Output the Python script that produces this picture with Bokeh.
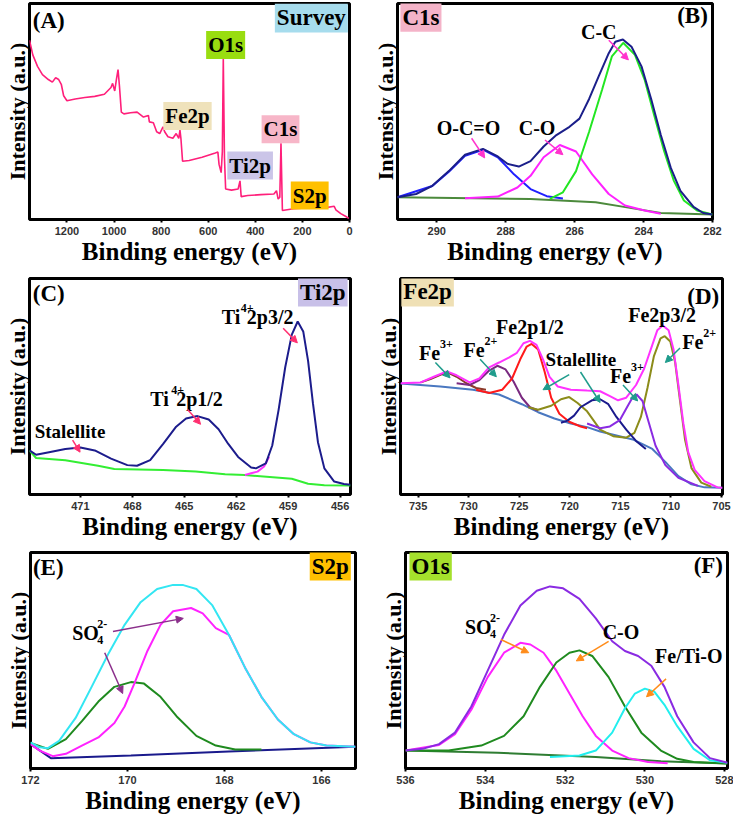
from bokeh.plotting import figure
from bokeh.models import Range1d, FixedTicker, Label, Arrow, NormalHead
from bokeh.layouts import column, row
from bokeh.embed import file_html
from bokeh.resources import INLINE

SERIF = "Liberation Serif"
SANS = "Liberation Sans"

# ---------------- data ----------------
# (A) survey
survey_be = [1359, 1345, 1325, 1304, 1279, 1262, 1248, 1235, 1224, 1214, 1200, 1165, 1124, 1082, 1041,
             1013, 1006, 997, 990, 983, 977, 969, 958, 930, 902, 875, 854, 850, 833, 819,
             806, 792, 785, 771, 750, 736, 725, 720, 716, 709, 681, 626, 570, 559, 554,
             545, 540, 536, 531, 526, 501, 473, 465, 460, 432, 376, 321, 310, 303, 296,
             291, 285, 238, 169, 100, 65, 58, 37, 17, 3]
survey_int = [83.0, 76.2, 70.9, 67.1, 64.8, 63.6, 65.6, 64.8, 62.6, 57.3, 55.0, 55.8, 56.5, 57.0, 58.0,
              61.1, 63.0, 59.5, 64.8, 69.4, 61.8, 49.7, 48.9, 49.4, 49.7, 47.4, 48.2, 45.2, 44.8, 40.6,
              39.8, 42.9, 40.6, 38.3, 37.6, 39.8, 37.6, 41.4, 37.6, 27.0, 27.3, 28.8, 30.8, 31.2, 25.5,
              21.7, 31.5, 74.7, 28.5, 14.1, 13.6, 14.1, 17.9, 10.6, 11.1, 11.5, 11.8, 13.3, 9.5, 10.3,
              35.3, 4.2, 5.0, 5.5, 5.5, 6.1, 4.5, 2.7, 1.5, 0.5]
survey_ticks = [1200, 1000, 800, 600, 400, 200, 0]

# (B) C1s
c1s_ticks = [290, 288, 286, 284, 282]
c1s_env_be = [291.14, 290.6, 290.13, 289.65, 289.18, 288.66, 288.23, 287.95, 287.62, 287.28, 286.9, 286.53,
              286.15, 285.86, 285.58, 285.3, 285.01, 284.82, 284.6, 284.35, 284.06, 283.78, 283.5, 283.21,
              282.93, 282.55, 282.27, 282.0]
c1s_env_int = [10.3, 11.8, 15.6, 22.4, 30.0, 32.7, 29.2, 25.8, 24.5, 27.0, 33.8, 39.1, 42.9, 46.7, 55.8,
               66.4, 77.0, 82.3, 83.3, 80.0, 70.9, 55.8, 39.1, 23.9, 13.3, 5.8, 3.0, 2.3]
c1s_bg_be = [291.14, 287.28, 285.39, 284.44, 283.5, 282.0]
c1s_bg_int = [10.3, 9.5, 8.0, 5.5, 3.0, 2.3]
c1s_oco_be = [291.14, 290.13, 289.65, 289.18, 288.66, 288.23, 287.76, 287.28, 286.81, 286.34]
c1s_oco_int = [10.3, 15.5, 22.1, 29.5, 32.3, 28.8, 20.9, 14.1, 10.8, 9.7]
c1s_co_be = [289.18, 288.23, 287.66, 287.28, 286.9, 286.43, 285.96, 285.49, 285.01, 284.54, 283.97, 283.5]
c1s_co_int = [9.8, 10.6, 14.8, 20.2, 28.8, 34.5, 31.5, 20.9, 11.8, 6.5, 4.2, 2.7]
c1s_cc_be = [286.72, 286.34, 285.96, 285.58, 285.2, 284.92, 284.59, 284.25, 283.97, 283.69, 283.4, 283.12,
             282.83, 282.45, 282.0]
c1s_cc_int = [9.5, 12.6, 22.4, 40.6, 60.3, 75.5, 81.8, 76.2, 64.8, 48.2, 31.5, 17.9, 8.8, 4.2, 2.3]

# (C) Ti2p
ti_ticks = [471, 468, 465, 462, 459, 456]
ti_env_be = [473.94, 473.56, 472.81, 471.87, 471.0, 470.17, 469.23, 468.29, 467.73, 466.97, 466.22, 465.47,
             464.9, 464.24, 463.59, 463.02, 462.46, 461.89, 461.14, 460.86, 460.29, 459.92, 459.55, 459.17,
             458.79, 458.45, 458.13, 457.85, 457.57, 457.28, 456.91, 456.34, 455.78, 455.4]
ti_env_int = [20.4, 18.4, 19.6, 21.1, 21.8, 20.4, 16.6, 13.6, 13.3, 15.9, 23.4, 31.4,
              35.2, 36.3, 34.7, 30.2, 23.4, 17.4, 12.5, 12.1, 14.4, 22.7, 39.3, 58.9,
              74.0, 80.1, 75.5, 61.9, 42.3, 24.2, 12.1, 6.0, 4.9, 4.5]
ti_p32_be = [461.5, 461.14, 460.77, 460.39, 460.1]
ti_p32_int = [9.0, 9.8, 10.6, 13.0, 17.5]
ti_bg_be = [473.94, 473.56, 471.87, 469.98, 469.04, 466.22, 464.34, 462.64, 461.51, 458.79, 457.85,
            456.91, 455.4]
ti_bg_int = [20.4, 16.9, 15.9, 13.3, 11.8, 11.3, 10.6, 9.4, 9.0, 7.3, 5.0, 4.3, 4.2]

# (D) Fe2p
fe_ticks = [735, 730, 725, 720, 715, 710, 705]
fe_bg_be = [736.74, 732.81, 729.58, 727.0, 724.74, 723.13, 721.52, 719.9, 718.29, 717.0, 713.77, 711.84,
            710.55, 709.26, 707.97, 706.68, 704.9]
fe_bg_int = [51.4, 50.0, 48.5, 46.3, 41.8, 38.1, 35.2, 32.9, 31.2, 29.2, 25.5, 21.1, 15.1, 8.5, 4.7, 3.3, 3.1]
fe_env_be = [736.74, 734.74, 733.45, 732.16, 731.19, 729.9, 728.94, 727.97, 727.0, 726.03, 725.23, 724.58,
             723.94, 723.29, 722.65, 722.0, 721.19, 719.9, 718.29, 717.0, 716.03, 715.23, 714.42, 713.45,
             712.65, 712.0, 711.35, 710.81, 710.23, 709.74, 709.26, 708.77, 708.29, 707.65, 706.68, 705.39,
             704.9]
fe_env_int = [51.5, 51.9, 54.5, 57.0, 55.2, 51.9, 53.7, 58.9, 61.1, 63.4, 65.6, 70.0,
              71.1, 69.3, 62.6, 54.5, 50.0, 48.5, 48.1, 47.8, 45.5, 43.6, 44.8, 50.7,
              58.2, 67.1, 76.0, 78.2, 76.0, 67.1, 50.7, 32.9, 19.6, 11.4, 6.2, 3.3, 3.1]
fe_sat3_be = [734.74, 733.77, 732.16, 731.19, 730.23, 729.26, 728.29]
fe_sat3_int = [51.9, 53.4, 56.7, 54.5, 51.5, 49.3, 48.5]
fe_p12_2_be = [731.19, 729.9, 728.94, 727.97, 727.16, 726.35, 725.55, 724.74, 723.94, 723.13]
fe_p12_2_int = [51.5, 50.7, 53.0, 57.4, 59.6, 57.9, 52.2, 44.8, 40.4, 38.9]
fe_p12_3_be = [729.26, 727.97, 726.68, 725.71, 724.9, 724.26, 723.77, 723.13, 722.48, 721.84, 721.03,
               720.06, 718.94, 718.29]
fe_p12_3_int = [48.5, 47.0, 48.5, 53.7, 62.6, 68.5, 69.7, 67.1, 56.7, 44.8, 37.4, 33.7, 31.5, 30.7]
fe_p32_2_be = [724.1, 723.13, 721.84, 720.87, 720.06, 719.26, 718.29, 717.0, 715.71, 714.42, 713.61, 712.97,
               712.32, 711.68, 711.03, 710.61, 710.06, 709.58, 709.1, 708.61, 707.97, 707.0, 706.0]
fe_p32_2_int = [40.4, 39.2, 41.1, 44.1, 45.1, 42.5, 38.5, 30.0, 27.0, 26.3, 28.5, 35.9,
                49.3, 64.1, 72.3, 73.3, 70.8, 61.1, 43.3, 25.5, 12.2, 5.5, 3.6]
fe_sat_be = [720.87, 720.23, 719.58, 718.94, 717.81, 717.0, 716.19, 715.39, 714.42, 713.45, 712.48]
fe_sat_int = [33.2, 34.2, 36.5, 40.4, 43.6, 44.1, 41.8, 35.9, 30.0, 24.8, 21.1]
fe_p32_3_be = [718.29, 717.0, 716.03, 715.06, 714.26, 713.77, 713.39, 712.81, 712.16, 711.52, 710.55,
               709.26, 707.32]
fe_p32_3_int = [32.9, 30.7, 31.5, 34.4, 41.1, 45.1, 46.3, 43.3, 32.9, 22.6, 13.6, 7.7, 4.0]

# (E) S2p
s_ticks = [172, 170, 168, 166]
s_env_be = [172.0, 171.81, 171.64, 171.41, 171.07, 170.74, 170.4, 170.06, 169.73, 169.39, 169.06, 168.85,
            168.58, 168.25, 167.91, 167.58, 167.24, 166.9, 166.57, 166.23, 165.9, 165.3]
s_env_int = [12.1, 9.8, 9.4, 12.8, 23.4, 37.8, 52.9, 66.5, 77.0, 83.1, 85.0, 84.9, 83.1, 75.5, 61.9, 46.8,
             33.2, 22.7, 15.9, 12.1, 10.6, 10.1]
s_p32_be = [172.0, 171.81, 171.54, 171.27, 170.94, 170.6, 170.27, 170.06, 169.86, 169.59, 169.32, 169.06,
            168.69, 168.45, 168.18, 167.91, 167.58, 167.24, 166.9, 166.57, 166.23, 165.9, 165.3]
s_p32_int = [11.3, 8.3, 5.7, 6.8, 10.6, 14.4, 21.1, 28.7, 39.3, 54.4, 66.5, 72.8, 74.3, 71.8, 65.0, 61.9,
             46.8, 33.2, 22.7, 15.9, 12.1, 10.6, 10.1]
s_p12_be = [172.0, 171.64, 171.27, 170.94, 170.6, 170.27, 169.93, 169.66, 169.32, 168.99, 168.58, 168.18,
            167.78, 167.24]
s_p12_int = [11.8, 9.1, 13.6, 21.9, 31.0, 37.8, 40.0, 39.3, 33.2, 24.2, 15.1, 10.6, 8.8, 8.8]
s_bg_be = [172.0, 171.58, 169.93, 167.91, 165.3]
s_bg_int = [11.3, 4.8, 6.0, 7.9, 10.1]

# (F) O1s
o_ticks = [536, 534, 532, 530, 528]
o_env_be = [536.0, 535.57, 535.16, 534.76, 534.35, 533.94, 533.53, 533.12, 532.71, 532.38, 532.05, 531.64,
            531.23, 530.82, 530.5, 530.17, 529.84, 529.51, 529.19, 528.78, 528.37, 527.93]
o_env_int = [8.3, 9.1, 11.3, 16.6, 28.7, 45.3, 61.9, 75.5, 82.3, 84.3, 83.4, 78.5, 69.5, 58.9, 54.4, 52.1,
             47.6, 37.8, 24.2, 12.1, 4.8, 2.7]
o_so4_be = [536.0, 535.16, 534.76, 534.35, 533.94, 533.53, 533.12, 532.87, 532.54, 532.22, 531.89, 531.56,
            531.23, 530.82, 530.41, 529.92, 529.43]
o_so4_int = [8.3, 10.9, 15.9, 27.2, 42.3, 53.6, 58.2, 57.4, 53.6, 45.3, 34.7, 24.2, 15.1, 8.3, 4.8, 3.0, 2.4]
o_co_be = [536.0, 534.92, 534.1, 533.53, 533.04, 532.63, 532.22, 531.89, 531.64, 531.32, 530.91, 530.5,
           530.09, 529.6, 529.19, 528.78, 527.93]
o_co_int = [8.3, 8.3, 10.6, 15.1, 24.2, 37.8, 49.1, 53.6, 54.7, 52.1, 42.3, 28.7, 16.6, 8.3, 4.5, 3.0, 2.3]
o_mo_be = [532.38, 531.64, 531.23, 530.82, 530.5, 530.25, 530.0, 529.76, 529.51, 529.19, 528.78, 528.37,
           527.93]
o_mo_int = [5.3, 6.0, 8.3, 16.6, 27.9, 34.7, 37.0, 35.5, 29.5, 19.6, 9.1, 3.8, 2.6]
o_bg_be = [536.0, 533.69, 531.23, 529.6, 527.93]
o_bg_int = [8.3, 7.3, 5.3, 3.3, 2.3]


# ---------------- helpers ----------------
def make_fig(x0, x1, ticks, w, h, bl, br, bt, bb):
    p = figure(width=w, height=h, x_range=Range1d(x0, x1), y_range=Range1d(0, 100),
               output_backend="svg", toolbar_location=None,
               min_border_left=bl, min_border_right=br, min_border_top=bt, min_border_bottom=bb)
    p.xgrid.visible = False
    p.ygrid.visible = False
    p.outline_line_color = "black"
    p.outline_line_width = 3
    p.outline_line_alpha = 1
    p.background_fill_color = "white"
    xa = p.xaxis[0]
    xa.ticker = FixedTicker(ticks=ticks)
    xa.axis_label = "Binding energy (eV)"
    xa.axis_label_text_font = SERIF
    xa.axis_label_text_font_style = "bold"
    xa.axis_label_text_font_size = "25px"
    xa.axis_label_text_color = "black"
    xa.axis_label_standoff = 0
    xa.major_label_text_font = SANS
    xa.major_label_text_font_style = "bold"
    xa.major_label_text_font_size = "11px"
    xa.major_label_text_color = "#333333"
    xa.major_label_standoff = 4
    xa.major_tick_in = 0
    xa.major_tick_out = 3
    xa.major_tick_line_width = 2
    xa.minor_tick_line_color = None
    xa.axis_line_color = None
    ya = p.yaxis[0]
    ya.ticker = FixedTicker(ticks=[])
    ya.axis_label = "Intensity (a.u.)"
    ya.axis_label_text_font = SERIF
    ya.axis_label_text_font_style = "bold"
    ya.axis_label_text_font_size = "22px"
    ya.axis_label_text_color = "black"
    ya.axis_label_standoff = 0
    ya.major_tick_in = 0
    ya.major_tick_out = 0
    ya.minor_tick_line_color = None
    ya.axis_line_color = None
    ya.major_label_text_font_size = "0px"
    return p


def label(p, x, y, text, size=20, align="center", baseline="middle", bg=None, xo=0, yo=0):
    lab = Label(x=x, y=y, text=text, x_offset=xo, y_offset=yo, text_font=SERIF,
                text_font_style="bold", text_font_size=f"{size}px", text_align=align,
                text_baseline=baseline, text_color="black")
    if bg is not None:
        lab.background_fill_color = bg
        lab.padding = 2
    p.add_layout(lab)


def ion(p, x, y, base, sup=None, sub=None, w=21, rest=None, rest_off=0):
    label(p, x, y, base, align="left")
    if sup:
        label(p, x, y, sup, size=12, align="left", xo=w, yo=9)
    if sub:
        label(p, x, y, sub, size=12, align="left", xo=w, yo=-7)
    if rest:
        label(p, x, y, rest, align="left", xo=rest_off)


def arrow(p, x0, y0, x1, y1, color):
    p.add_layout(Arrow(end=NormalHead(size=7, fill_color=color, line_color=color, line_width=1),
                       x_start=x0, y_start=y0, x_end=x1, y_end=y1,
                       line_color=color, line_width=1.5))


# ---------------- (A) survey ----------------
pA = make_fig(1359, 0, survey_ticks, 366, 272, 29, 17, 3, 53)
pA.line(survey_be, survey_int, line_color="#ff1f7a", line_width=1.6)
label(pA, 1345, 98, "(A)", size=23, align="left", baseline="top")
label(pA, 162, 93.3, "Survey", size=23, bg="#a6dced")
label(pA, 526, 80.8, "O1s", size=21, bg="#99dd10")
label(pA, 688, 47.9, "Fe2p", size=21, bg="#efe2bb")
label(pA, 293, 41.8, "C1s", size=21, bg="#f7b6c8")
label(pA, 422, 25.0, "Ti2p", size=21, bg="#cbc5e8")
label(pA, 169, 11.1, "S2p", size=21, bg="#ffc000")

# ---------------- (B) C1s ----------------
pB = make_fig(291.14, 282, c1s_ticks, 367, 272, 31, 21, 3, 53)
pB.line(c1s_bg_be, c1s_bg_int, line_color="#4c8a3c", line_width=2)
pB.line(c1s_oco_be, c1s_oco_int, line_color="#2020ff", line_width=2)
pB.line(c1s_co_be, c1s_co_int, line_color="#ff22ff", line_width=2)
pB.line(c1s_cc_be, c1s_cc_int, line_color="#22e622", line_width=2)
pB.line(c1s_env_be, c1s_env_int, line_color="#1b1f8a", line_width=2)
label(pB, 290.46, 93.6, "C1s", size=23, bg="#f4b3c8")
label(pB, 282.58, 94.4, "(B)", size=23)
label(pB, 285.3, 86.8, "C-C")
arrow(pB, 285.01, 83.0, 284.44, 73.9, "#ff33cc")
label(pB, 289.08, 42.4, "O-C=O")
arrow(pB, 288.99, 37.6, 288.61, 28.5, "#ff33cc")
label(pB, 287.09, 42.4, "C-O")
arrow(pB, 286.86, 36.8, 286.34, 30.0, "#ff33cc")

# ---------------- (C) Ti2p ----------------
pC = make_fig(473.94, 455.4, ti_ticks, 366, 272, 29, 16, 6, 50)
pC.line(ti_bg_be, ti_bg_int, line_color="#33ee33", line_width=2)
pC.line(ti_p32_be, ti_p32_int, line_color="#ff33ff", line_width=2)
pC.line(ti_env_be, ti_env_int, line_color="#1c1c8c", line_width=2)
label(pC, 473.75, 98.9, "(C)", size=23, align="left", baseline="top")
label(pC, 457.0, 93.7, "Ti2p", size=23, bg="#c8c0e8")
ion(pC, 462.83, 82.3, "Ti", sup="4+", w=19, rest="2p3/2", rest_off=25)
arrow(pC, 459.29, 77.0, 458.47, 70.2, "#ff3070")
ion(pC, 466.97, 44.1, "Ti", sup="4+", w=21, rest="2p1/2", rest_off=26)
arrow(pC, 464.81, 39.3, 464.06, 32.5, "#ff3070")
label(pC, 471.6, 29.0, "Stalellite", size=19)
arrow(pC, 471.45, 25.2, 471.02, 19.6, "#ff3070")

# ---------------- (D) Fe2p ----------------
pD = make_fig(736.74, 704.9, fe_ticks, 367, 272, 34, 11, 6, 50)
pD.line(fe_bg_be, fe_bg_int, line_color="#4a78c0", line_width=2)
pD.line(fe_sat3_be, fe_sat3_int, line_color="#8b3a2a", line_width=2)
pD.line(fe_p12_2_be, fe_p12_2_int, line_color="#7a2a80", line_width=2)
pD.line(fe_p12_3_be, fe_p12_3_int, line_color="#ff1a1a", line_width=2)
pD.line(fe_p32_2_be, fe_p32_2_int, line_color="#8c8c1a", line_width=2)
pD.line(fe_sat_be, fe_sat_int, line_color="#1a1a8c", line_width=2)
pD.line(fe_p32_3_be, fe_p32_3_int, line_color="#8a2be2", line_width=2)
pD.line(fe_env_be, fe_env_int, line_color="#ff33ff", line_width=2)
teal = "#1f9c8c"
label(pD, 734.06, 93.8, "Fe2p", size=23, bg="#efe0b5")
label(pD, 706.8, 91.8, "(D)", size=23)
label(pD, 710.87, 83.1, "Fe2p3/2")
ion(pD, 708.87, 70.5, "Fe", sup="2+")
arrow(pD, 709.1, 67.8, 710.55, 61.1, teal)
ion(pD, 716.03, 54.9, "Fe", sup="3+")
arrow(pD, 714.74, 50.7, 713.29, 43.3, teal)
label(pD, 718.9, 62.6, "Stalellite", size=19)
arrow(pD, 720.06, 55.5, 722.65, 48.5, teal)
arrow(pD, 718.94, 56.7, 717.0, 42.6, teal)
label(pD, 723.94, 77.4, "Fe2p1/2")
ion(pD, 730.5, 66.9, "Fe", sup="2+")
arrow(pD, 728.87, 62.6, 727.26, 54.5, teal)
ion(pD, 734.9, 65.3, "Fe", sup="3+")
arrow(pD, 733.29, 61.1, 731.84, 54.0, teal)

# ---------------- (E) S2p ----------------
pE = make_fig(172, 165.3, s_ticks, 366, 272, 30, 11, 8, 48)
pE.line(s_bg_be, s_bg_int, line_color="#1a1a8c", line_width=2)
pE.line(s_p12_be, s_p12_int, line_color="#1f8a1f", line_width=2)
pE.line(s_p32_be, s_p32_int, line_color="#ff22ff", line_width=2)
pE.line(s_env_be, s_env_int, line_color="#33e6f2", line_width=2)
label(pE, 171.95, 98.9, "(E)", size=23, align="left", baseline="top")
label(pE, 165.82, 93.7, "S2p", size=23, bg="#ffc000")
ion(pE, 171.14, 62.7, "SO", sup="2-", sub="4", w=25)
arrow(pE, 170.3, 63.4, 168.85, 69.5, "#8b2f8b")
arrow(pE, 170.47, 53.6, 170.1, 34.7, "#8b2f8b")

# ---------------- (F) O1s ----------------
pF = make_fig(536, 527.93, o_ticks, 367, 272, 39, 6, 8, 48)
pF.line(o_bg_be, o_bg_int, line_color="#2e7d32", line_width=2)
pF.line(o_so4_be, o_so4_int, line_color="#ff22ff", line_width=2)
pF.line(o_co_be, o_co_int, line_color="#1f8a1f", line_width=2)
pF.line(o_mo_be, o_mo_int, line_color="#22eeee", line_width=2)
pF.line(o_env_be, o_env_int, line_color="#8a2be2", line_width=2)
orange = "#ff8c1a"
label(pF, 535.37, 93.7, "O1s", size=23, bg="#a5e02c")
label(pF, 528.41, 94.1, "(F)", size=23)
ion(pF, 534.51, 65.3, "SO", sup="2-", sub="4", w=25)
arrow(pF, 533.61, 59.7, 532.91, 53.6, orange)
label(pF, 530.6, 63.4, "C-O")
arrow(pF, 530.91, 58.9, 531.72, 49.8, orange)
label(pF, 528.9, 52.3, "Fe/Ti-O")
arrow(pF, 529.47, 41.5, 529.96, 33.2, orange)

layout = column(row(pA, pB), row(pC, pD), row(pE, pF))
open("out.html", "w").write(file_html(layout, INLINE))
